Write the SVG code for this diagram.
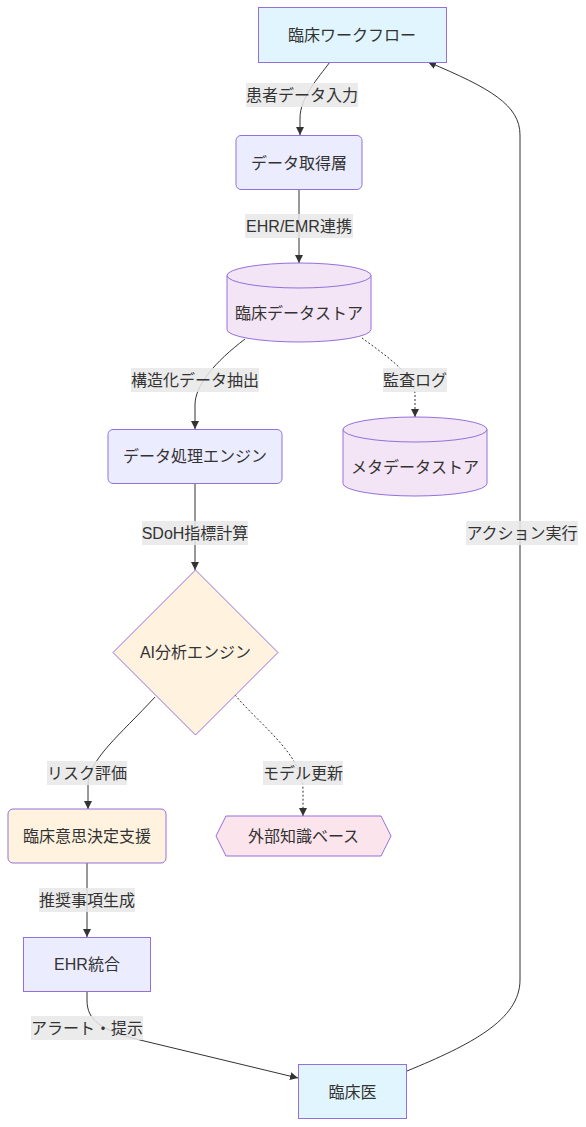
<svg xmlns="http://www.w3.org/2000/svg" width="586" height="1127" viewBox="0 0 586 1127">
<style>
text{font-family:"Liberation Sans","Noto Sans CJK JP",sans-serif;font-size:16px;fill:#333;text-anchor:middle;dominant-baseline:central}
.n{stroke:#9370DB;stroke-width:1}
.def{fill:#ECECFF}
.blue{fill:#e1f5fe}
.db{fill:#f3e5f5}
.ora{fill:#fff3e0}
.pink{fill:#fce4ec}
.e{fill:none;stroke:#333;stroke-width:1;marker-end:url(#arr)}
.d{stroke-dasharray:2 2}
.lb{fill:#e8e8e8;fill-opacity:0.85}
</style>
<defs>
<marker id="arr" viewBox="0 0 10 10" refX="10" refY="5" markerWidth="8" markerHeight="8" markerUnits="userSpaceOnUse" orient="auto">
<path d="M0,0 L10,5 L0,10 z" fill="#333"/>
</marker>
</defs>
<rect width="586" height="1127" fill="#fff"/>
<g id="edges">
<path class="e" d="M330,62 C318,78 300,98 300,118 L300,135"/>
<path class="e" d="M299,190 L299,263"/>
<path class="e" d="M245,339 C215,362 195,385 195,405 L195,429"/>
<path class="e d" d="M362,338 C385,355 415,375 415,395 L415,417"/>
<path class="e" d="M195,483 L195,570"/>
<path class="e" d="M155,697 C120,735 88,760 88,785 L88,809"/>
<path class="e d" d="M235,695 C260,725 303,755 303,790 L303,816"/>
<path class="e" d="M87,863 L87,937"/>
<path class="e" d="M87,991 L87,1000 C87,1020 100,1030 140,1040 L298,1078"/>
<path class="e" d="M407,1071 C470,1045 520,1020 520,980 L520,135 C520,105 490,88 428,62"/>
</g>
<g id="edge-labels">
<rect class="lb" x="246" y="83" width="112" height="24"/><text x="302" y="95">患者データ入力</text>
<rect class="lb" x="245" y="214" width="108" height="24"/><text x="299" y="226">EHR/EMR連携</text>
<rect class="lb" x="131" y="368" width="128" height="24"/><text x="195" y="380">構造化データ抽出</text>
<rect class="lb" x="383" y="368" width="64" height="24"/><text x="415" y="380">監査ログ</text>
<rect class="lb" x="142" y="521" width="106" height="24"/><text x="195" y="533">SDoH指標計算</text>
<rect class="lb" x="47" y="761" width="80" height="24"/><text x="87" y="773">リスク評価</text>
<rect class="lb" x="263" y="761" width="80" height="24"/><text x="303" y="773">モデル更新</text>
<rect class="lb" x="39" y="888" width="96" height="24"/><text x="87" y="900">推奨事項生成</text>
<rect class="lb" x="31" y="1016" width="112" height="24"/><text x="87" y="1028">アラート・提示</text>
<rect class="lb" x="466" y="521" width="112" height="24"/><text x="522" y="533">アクション実行</text>
</g>
<g id="workflow"><rect class="n blue" x="258.5" y="7.5" width="188" height="55"/><text x="352" y="35">臨床ワークフロー</text></g>
<g id="acquire"><rect class="n def" x="236" y="135.5" width="126" height="54" rx="5"/><text x="299" y="163">データ取得層</text></g>
<g id="clinicalStore"><path class="n db" d="M227,275.5 a72,12.5 0 0,0 144,0 a72,12.5 0 0,0 -144,0 l0,54 a72,12.5 0 0,0 144,0 l0,-54"/><text x="299" y="313">臨床データストア</text></g>
<g id="metaStore"><path class="n db" d="M343,429.5 a72,12.5 0 0,0 144,0 a72,12.5 0 0,0 -144,0 l0,54 a72,12.5 0 0,0 144,0 l0,-54"/><text x="415" y="467">メタデータストア</text></g>
<g id="processing"><rect class="n def" x="108" y="429.5" width="174" height="54" rx="5"/><text x="195" y="456">データ処理エンジン</text></g>
<g id="ai"><polygon class="n ora" points="195.5,570 278,652.5 195.5,735 113,652.5"/><text x="195.5" y="652">AI分析エンジン</text></g>
<g id="cds"><rect class="n ora" x="8" y="809" width="158" height="54" rx="5"/><text x="87" y="836">臨床意思決定支援</text></g>
<g id="kb"><polygon class="n pink" points="216,836 226,816 381,816 391,836 381,856 226,856"/><text x="303.5" y="836">外部知識ベース</text></g>
<g id="ehr"><rect class="n def" x="23.5" y="937.5" width="127" height="54"/><text x="87" y="964">EHR統合</text></g>
<g id="clinician"><rect class="n blue" x="298.5" y="1064.5" width="108" height="54"/><text x="352.5" y="1092">臨床医</text></g>
</svg>
